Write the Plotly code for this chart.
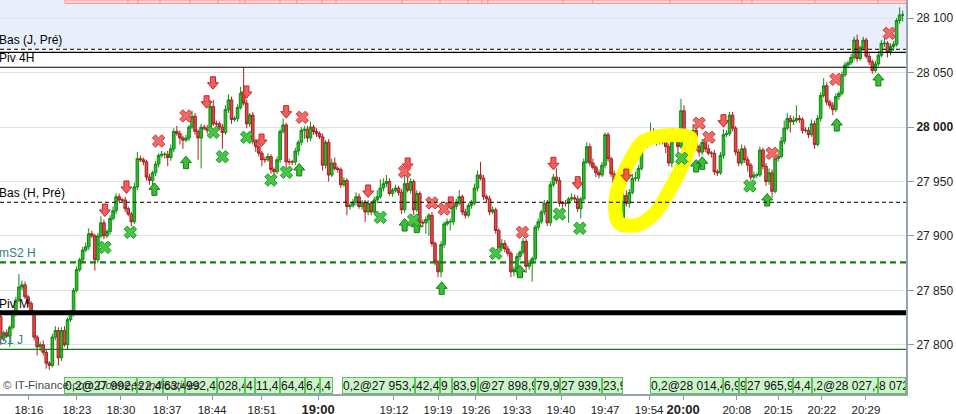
import plotly.graph_objects as go

# ---------------- data ----------------
first_open = 27826
closes = [
    27806, 27811, 27808, 27816, 27829, 27841, 27853, 27855, 27844, 27838,
    27829, 27807, 27798, 27800, 27793, 27783, 27781, 27807, 27813, 27788,
    27813, 27800, 27823, 27829, 27850, 27869, 27878, 27887, 27890, 27902,
    27900, 27878, 27900, 27912, 27900, 27904, 27916, 27923, 27936, 27933,
    27933, 27925, 27920, 27913, 27945, 27971, 27970, 27968, 27954, 27951,
    27958, 27966, 27974, 27975, 27975, 27972, 27980, 27996, 27994, 27990,
    27988, 27990, 28000, 28010, 27996, 27990, 28000, 27999, 27997, 28019,
    28003, 28003, 28000, 27995, 28016, 28025, 28007, 28008, 28018, 28031,
    28022, 28003, 28011, 27987, 27982, 27976, 27970, 27970, 27973, 27961,
    27959, 27970, 27996, 28002, 27968, 27968, 27968, 27978, 27986, 27997,
    27998, 27990, 28000, 27996, 27994, 27991, 27965, 27986, 27956, 27967,
    27962, 27961, 27947, 27951, 27927, 27928, 27931, 27936, 27927, 27931,
    27922, 27930, 27922, 27933, 27936, 27944, 27948, 27950, 27939, 27942,
    27944, 27940, 27924, 27948, 27942, 27950, 27924, 27939, 27912, 27912,
    27915, 27919, 27893, 27876, 27867, 27892, 27911, 27913, 27913, 27927,
    27930, 27936, 27922, 27919, 27928, 27930, 27944, 27956, 27953, 27936,
    27934, 27922, 27924, 27905, 27889, 27893, 27888, 27884, 27867, 27869,
    27881, 27885, 27895, 27872, 27875, 27879, 27908, 27913, 27922, 27930,
    27912, 27947, 27954, 27951, 27930, 27930, 27930, 27934, 27935, 27934,
    27925, 27934, 27968, 27982, 27967, 27963, 27958, 27956, 27965, 27993,
    27971, 27957, 27944, 27913, 27916, 27937, 27930, 27940, 27953, 27953,
    27962, 27982, 27983, 27990, 27994, 27988, 27986, 27988, 27987, 27982,
    27967, 27990, 27991, 27982, 28015, 27991, 27986, 27989, 27997, 27982,
    27977, 27986, 27980, 27976, 27976, 27959, 27958, 27974, 27993, 27994,
    28011, 27999, 27977, 27967, 27980, 27970, 27965, 27954, 27956, 27956,
    27979, 27964, 27950, 27958, 27941, 27971, 27973, 27987, 27999, 28008,
    28005, 28006, 28008, 28007, 27997, 27997, 27993, 28003, 27984, 28008,
    28029, 28038, 28023, 28020, 28016, 28028, 28031, 28048, 28057, 28059,
    28064, 28080, 28063, 28073, 28080, 28065, 28060, 28052, 28058, 28066,
    28077, 28077, 28069, 28074, 28076, 28098, 28103, 28103,
]
wick_up = [
    4, 2, 3, 2, 3, 3, 12, 4, 3, 2,
    2, 3, 2, 3, 4, 3, 2, 3, 4, 3,
    3, 4, 2, 3, 2, 3, 2, 3, 4, 5,
    3, 2, 3, 6, 3, 2, 3, 4, 3, 3,
    2, 3, 2, 2, 4, 6, 3, 2, 2, 3,
    2, 3, 2, 3, 2, 3, 4, 3, 5, 3,
    2, 3, 2, 5, 3, 2, 3, 2, 3, 6,
    6, 3, 2, 3, 4, 5, 3, 2, 3, 6,
    24, 3, 2, 3, 2, 3, 2, 3, 3, 2,
    2, 3, 2, 6, 2, 3, 2, 3, 2, 3,
    3, 3, 5, 2, 3, 2, 3, 2, 3, 4,
    5, 2, 2, 3, 2, 2, 3, 4, 3, 2,
    2, 3, 2, 3, 6, 8, 5, 6, 3, 2,
    3, 2, 3, 8, 18, 3, 2, 3, 2, 3,
    3, 2, 3, 2, 2, 3, 2, 3, 3, 4,
    4, 6, 2, 3, 2, 3, 4, 4, 12, 3,
    2, 3, 3, 2, 2, 4, 3, 3, 2, 3,
    3, 2, 3, 2, 3, 2, 2, 3, 2, 3,
    3, 3, 3, 8, 3, 2, 3, 2, 4, 3,
    3, 2, 3, 4, 3, 4, 2, 3, 3, 2,
    2, 2, 3, 2, 3, 3, 5, 3, 4, 6,
    3, 4, 6, 5, 10, 5, 3, 3, 2, 3,
    3, 3, 4, 3, 11, 5, 3, 2, 6, 3,
    2, 3, 3, 4, 2, 3, 2, 3, 5, 3,
    3, 3, 2, 3, 4, 3, 3, 2, 3, 2,
    3, 2, 3, 4, 3, 3, 6, 4, 7, 5,
    3, 4, 12, 3, 2, 3, 3, 4, 3, 3,
    3, 7, 3, 2, 3, 3, 2, 3, 3, 2,
    3, 3, 5, 2, 3, 2, 3, 2, 3, 4,
    3, 5, 2, 3, 3, 2, 7, 4,
]
wick_dn = [
    6, 3, 2, 10, 2, 3, 2, 3, 2, 3,
    2, 3, 8, 4, 3, 5, 4, 2, 3, 7,
    3, 2, 4, 2, 3, 2, 2, 3, 2, 3,
    2, 10, 3, 2, 3, 2, 3, 2, 3, 2,
    2, 3, 2, 4, 2, 3, 2, 3, 3, 4,
    4, 3, 3, 2, 4, 8, 3, 3, 2, 6,
    8, 2, 3, 2, 3, 20, 28, 2, 3, 2,
    2, 3, 3, 15, 2, 3, 4, 2, 3, 2,
    2, 4, 3, 3, 5, 3, 6, 3, 2, 4,
    3, 2, 3, 2, 6, 3, 3, 3, 4, 3,
    8, 4, 3, 3, 3, 2, 5, 3, 6, 2,
    2, 3, 3, 2, 8, 3, 2, 3, 2, 3,
    9, 3, 3, 2, 3, 2, 3, 3, 2, 3,
    2, 3, 4, 3, 2, 3, 5, 2, 7, 4,
    10, 15, 3, 3, 5, 5, 3, 2, 8, 3,
    3, 2, 3, 3, 2, 3, 2, 3, 2, 3,
    3, 3, 2, 3, 4, 2, 3, 3, 5, 4,
    5, 3, 2, 6, 3, 17, 2, 3, 2, 3,
    3, 3, 2, 3, 3, 4, 3, 18, 2, 3,
    3, 9, 2, 2, 3, 2, 4, 3, 2, 3,
    3, 3, 2, 6, 9, 3, 3, 4, 2, 3,
    3, 2, 3, 2, 3, 2, 3, 2, 3, 6,
    3, 4, 3, 6, 2, 3, 3, 4, 3, 4,
    4, 3, 3, 2, 4, 3, 3, 2, 3, 2,
    2, 3, 3, 3, 2, 3, 6, 3, 2, 3,
    2, 3, 4, 3, 6, 2, 3, 2, 3, 2,
    10, 3, 2, 3, 3, 2, 3, 2, 4, 2,
    3, 2, 3, 3, 5, 2, 3, 2, 2, 3,
    2, 3, 3, 2, 3, 2, 3, 3, 2, 2,
    2, 3, 5, 3, 4, 2, 3, 6,
]

time_labels = ["18:16", "18:23", "18:30", "18:37", "18:44", "18:51", "19:00",
               "19:12", "19:19", "19:26", "19:33", "19:40", "19:47", "19:54",
               "20:00", "20:08", "20:15", "20:22", "20:29"]
time_label_bars = [9.3, 25.1, 39.6, 54.8, 69.6, 86.0, 104.5, 129.5, 144.0, 156.5,
                   170.0, 184.5, 199.0, 213.5, 224.7, 242.4, 256.0, 270.4, 284.9]
price_ticks = [27800, 27850, 27900, 27950, 28000, 28050, 28100]

level_names = ["Bas (J, Pré)", "", "Piv 4H", "Bas (H, Pré)", "mS2 H", "Piv M", "S1 J"]
level_prices = [28071.5, 28068.7, 28055.0, 27930.9, 27875.7, 27829.4, 27795.8]

sell_arrow_bar = [34.3, 41.4, 67.8, 69.9, 80.9, 85.9, 94, 121, 134, 148.2, 182, 190, 206, 238]
sell_arrow_price = [27923.8, 27945.0, 28023.3, 28040.8, 28032.3, 27988.1, 28014.2,
                    27941.3, 27966.1, 27930.3, 27966.7, 27948.9, 27955.9, 28005.9]
buy_arrow_bar = [50.6, 61, 98.3, 133, 137, 145.2, 171, 229, 231, 252.4, 275.3, 289]
buy_arrow_price = [27942.8, 27967.3, 27960.6, 27910.0, 27908.5, 27851.8, 27867.1,
                   27964.2, 27966.7, 27933.0, 28001.9, 28043.3]
red_x_bar = [52, 61, 99.3, 133, 142, 146, 171.8, 230, 233.2, 254, 275, 292.6]
red_x_price = [27987.2, 28010.2, 28009.0, 27959.0, 27930.3, 27924.7, 27903.3,
               28003.5, 27990.6, 27975.9, 28043.9, 28086.2]
green_x_bar = [34.3, 42.7, 70, 73, 81, 89, 94.1, 125, 136, 163, 184, 190.7, 224.2, 246.7]
green_x_price = [27889.5, 27903.3, 27995.2, 27972.8, 27990.6, 27951.4, 27958.5,
                 27917.1, 27914.6, 27884.0, 27920.1, 27907.0, 27971.3, 27945.9]

highlight_bar = [203.5, 209.6, 215.4, 219.8, 223.8, 226.6, 227.2, 221.1, 214.4,
                 211.0, 207.9, 205.2, 202.8, 202.5, 203.5]
highlight_price = [27911.9, 27910.0, 27921.0, 27939.8, 27960.9, 27979.3, 27990.0,
                   27992.8, 27990.0, 27985.4, 27972.5, 27957.8, 27939.4, 27921.0, 27911.9]

order_tag_text = ["0,2@27 992,9", "22,4", "63,4", "992,4", "028,4", "4", "11,4", "64,4", "6,4", ",4",
                  "0,2@27 953,4", "42,4", "9", "83,9", "@27 898,9", "79,9", "27 939,4", "23,9",
                  "0,2@28 014,4", "6,9", "9", "27 965,9", "4,4", ",2@28 027,4", "8 072"]

# ---------------- layout constants ----------------
PLOT_W, PLOT_H = 906, 394
PX_PER_BAR = 3.037
PX_PER_PT = 1.088
X_RANGE = [-0.23, 298.1]
Y_RANGE = [27754.7, 28116.8]
FONT = "Liberation Sans, Arial, sans-serif"

tag_left_px = [64, 137, 163, 185, 217, 245, 255, 280, 305, 320,
               342, 415, 440, 452, 478, 535, 560, 602,
               650, 723, 739, 746, 793, 812, 878]
tag_right_px = [137, 163, 185, 217, 245, 255, 280, 305, 320, 333,
                415, 440, 452, 478, 535, 560, 602, 623,
                723, 739, 746, 793, 812, 878, 906]
pink_edges_px = [65, 128, 138, 160, 190, 218, 240, 245, 280, 297, 322, 336,
                 402, 440, 468, 482, 488, 563, 593, 670, 742, 752, 815, 878, 906]

level_styles = [
    dict(color="black", width=1, dash="4px,3px"),
    dict(color="black", width=1.1, dash="solid"),
    dict(color="black", width=1.1, dash="solid"),
    dict(color="black", width=1, dash="4px,3px"),
    dict(color="#108010", width=2.2, dash="6px,4px"),
    dict(color="black", width=5, dash="solid"),
    dict(color="#1A7A1A", width=1.3, dash="solid"),
]
level_label_colors = ["black", "black", "black", "black", "#2B7F7F", "black", "#2B7F7F"]

# ---------------- derived OHLC ----------------
opens = [first_open] + closes[:-1]
highs = [max(o, c) + u for o, c, u in zip(opens, closes, wick_up)]
lows = [min(o, c) - d for o, c, d in zip(opens, closes, wick_dn)]
bars = list(range(len(closes)))


def arrow_polys(bx, py, down):
    shape = [(-2.5, -6), (2.5, -6), (2.5, 0), (5.5, 0), (0, 6.5), (-5.5, 0), (-2.5, 0), (-2.5, -6)]
    xs, ys = [], []
    sgn = 1 if down else -1
    for b, p in zip(bx, py):
        for dx, dy in shape:
            xs.append(b + dx / PX_PER_BAR)
            ys.append(p - sgn * dy / PX_PER_PT)
        xs.append(None)
        ys.append(None)
    return xs, ys


fig = go.Figure()

# yellow hand-drawn highlight
fig.add_trace(go.Scatter(x=highlight_bar, y=highlight_price, mode="lines",
                         line=dict(color="#FFFF00", width=14, shape="spline"),
                         hoverinfo="skip", showlegend=False))

fig.add_trace(go.Candlestick(
    x=bars, open=opens, high=highs, low=lows, close=closes,
    increasing=dict(fillcolor="#2DBE2D", line=dict(color="#118A11", width=1)),
    decreasing=dict(fillcolor="#DC4A4A", line=dict(color="#A82222", width=1)),
    whiskerwidth=0, showlegend=False, hoverinfo="skip"))

ax, ay = arrow_polys(sell_arrow_bar, sell_arrow_price, True)
fig.add_trace(go.Scatter(x=ax, y=ay, mode="lines", fill="toself",
                         fillcolor="rgba(238,72,72,0.88)",
                         line=dict(color="#C02828", width=1),
                         hoverinfo="skip", showlegend=False))
ax, ay = arrow_polys(buy_arrow_bar, buy_arrow_price, False)
fig.add_trace(go.Scatter(x=ax, y=ay, mode="lines", fill="toself",
                         fillcolor="rgba(48,185,48,0.95)",
                         line=dict(color="#0E7F0E", width=1),
                         hoverinfo="skip", showlegend=False))

fig.add_trace(go.Scatter(x=red_x_bar, y=red_x_price, mode="markers",
                         marker=dict(symbol="x", size=11, color="rgba(240,90,90,0.9)",
                                     line=dict(color="#D03A3A", width=1)),
                         hoverinfo="skip", showlegend=False))
fig.add_trace(go.Scatter(x=green_x_bar, y=green_x_price, mode="markers",
                         marker=dict(symbol="x", size=11, color="#46C646",
                                     line=dict(color="#1E961E", width=1)),
                         hoverinfo="skip", showlegend=False))

shapes = []
# blue zone above "Bas (J, Pré)"
shapes.append(dict(type="rect", xref="paper", x0=0, x1=1, yref="y",
                   y0=level_prices[0], y1=Y_RANGE[1], fillcolor="#E8EEFB",
                   line=dict(width=0), layer="below"))
# level lines
for p, st in zip(level_prices, level_styles):
    shapes.append(dict(type="line", xref="paper", x0=0, x1=1, yref="y", y0=p, y1=p,
                       line=st, layer="above"))
# pink order tags clipped at the top
for a, b in zip(pink_edges_px[:-1], pink_edges_px[1:]):
    shapes.append(dict(type="rect", xref="paper", yref="paper",
                       x0=a / PLOT_W, x1=b / PLOT_W, y0=1 - 3.5 / PLOT_H, y1=1,
                       fillcolor="#FFD4D4", line=dict(color="#F09A9A", width=1),
                       layer="above"))

annotations = []
for name, p, col in zip(level_names, level_prices, level_label_colors):
    if not name:
        continue
    annotations.append(dict(text=name, xref="paper", x=0, xanchor="left", xshift=-3,
                            yref="y", y=p, yanchor="bottom", yshift=0, showarrow=False,
                            font=dict(family=FONT, size=12, color=col)))

for t, a, b in zip(order_tag_text, tag_left_px, tag_right_px):
    annotations.append(dict(text=t, xref="paper", x=(a + b) / 2 / PLOT_W, xanchor="center",
                            yref="paper", y=0, yanchor="bottom", showarrow=False,
                            width=max(b - a - 2, 1), height=15, align="left",
                            bgcolor="#CCF5CC", bordercolor="#5CC35C", borderwidth=1,
                            borderpad=0, font=dict(family=FONT, size=12, color="#111")))

annotations.append(dict(text="© IT-Finance.com <i>Données indicatives</i>",
                        xref="paper", x=0, xanchor="left", xshift=1,
                        yref="paper", y=0, yanchor="bottom", yshift=1, showarrow=False,
                        font=dict(family=FONT, size=11.5, color="rgba(30,30,30,0.85)")))

x_ticktext = [("<span style='font-size:13px'><b>%s</b></span>" % t) if t.endswith(":00") else t
              for t in time_labels]
y_ticktext = []
for v in price_ticks:
    s = "{:,}".format(v).replace(",", " ")
    y_ticktext.append("<b>%s</b>" % s if v % 1000 == 0 else s)

fig.update_layout(
    width=956, height=414,
    margin=dict(l=0, r=50, t=0, b=20, autoexpand=False),
    paper_bgcolor="white", plot_bgcolor="white",
    showlegend=False, boxgap=0.15, boxgroupgap=0,
    font=dict(family=FONT, size=11.5, color="#222"),
    shapes=shapes, annotations=annotations,
    xaxis=dict(range=X_RANGE, tickvals=time_label_bars, ticktext=x_ticktext,
               ticks="outside", ticklen=4, tickcolor="#8C98A8", showgrid=False,
               zeroline=False, showline=True, linecolor="#95A2B2", linewidth=2,
               rangeslider=dict(visible=False), tickfont=dict(size=11.5, color="#222")),
    yaxis=dict(range=Y_RANGE, side="right", tickvals=price_ticks, ticktext=y_ticktext,
               ticks="outside", ticklen=6, tickcolor="#8C98A8", showgrid=True,
               gridcolor="#E3E3E3", zeroline=False, showline=True,
               linecolor="#95A2B2", linewidth=2, tickfont=dict(size=12, color="#222")),
)

fig.write_html("out.html", config={"displayModeBar": False},
               post_script="document.body.style.margin='0';document.body.style.overflow='hidden';")
